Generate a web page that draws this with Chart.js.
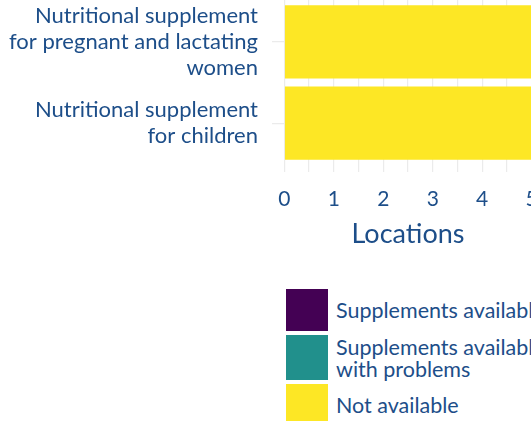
<!DOCTYPE html>
<html>
<head>
<meta charset="utf-8">
<script src="https://cdn.jsdelivr.net/npm/chart.js@4.4.0/dist/chart.umd.min.js"></script>
<style>
  html, body { margin: 0; padding: 0; background: #fff; }
  #page { position: relative; width: 531px; height: 421px; overflow: hidden; }
  #chart-box { position: absolute; left: 0; top: -20px; width: 600px; height: 270px; }
  #legenda { position: absolute; left: 286px; top: 289px; font-family: Lato, sans-serif; font-size: 21.5px; color: #1d4e89; }
  .item { display: flex; align-items: stretch; margin-bottom: 4px; }
  .caixa { width: 42px; min-height: 42px; flex: none; }
  .texto { display: flex; align-items: center; margin-left: 8px; line-height: 21.5px; white-space: nowrap; padding-top: 2px; }
</style>
</head>
<body>
<div id="page">
  <div id="chart-box"><canvas id="grafico"></canvas></div>
  <div id="legenda"></div>
</div>
<script>
const categorias = [
  ["Nutritional supplement", "for pregnant and lactating", "women"],
  ["Nutritional supplement", "for children"],
];
const disponiveis = [0, 0];
const comProblemas = [0, 0];
const naoDisponiveis = [5, 5];
const rotulosSerie = ["Supplements available", "Supplements available\nwith problems", "Not available"];
const cores = ["#440154", "#21908C", "#FDE725"];
// major ticks get a label, the half steps are minor grid lines only
const ticksX = [0, 0.5, 1, 1.5, 2, 2.5, 3, 3.5, 4, 4.5, 5];

const corTexto = "#1d4e89";
const fonte = "Lato, sans-serif";

// bars on a linear index axis so the panel keeps ggplot's 0.6 padding
function pontos(valores) {
  return valores.map((v, i) => ({ x: v, y: i }));
}

const series = [disponiveis, comProblemas, naoDisponiveis];
const datasets = series.map((s, i) => ({
  label: rotulosSerie[i],
  data: pontos(s),
  backgroundColor: cores[i],
  borderWidth: 0,
  barPercentage: 0.9,
  categoryPercentage: 1,
}));

new Chart(document.getElementById("grafico"), {
  type: "bar",
  data: { datasets },
  options: {
    indexAxis: "y",
    responsive: true,
    maintainAspectRatio: false,
    animation: false,
    layout: { padding: { left: 0, right: 56, top: 13, bottom: 0 } },
    plugins: { legend: { display: false }, tooltip: { enabled: false } },
    scales: {
      x: {
        type: "linear",
        stacked: true,
        min: -0.25,
        max: 5.25,
        offset: false,
        border: { display: false },
        grid: { color: "#ebebeb", lineWidth: 1.2, drawTicks: false, offset: false },
        ticks: {
          padding: 15,
          color: corTexto,
          autoSkip: false,
          maxRotation: 0,
          font: { family: fonte, size: 21 },
          callback: (v) => (Number.isInteger(v) ? String(v) : ""),
        },
        afterBuildTicks: (escala) => { escala.ticks = ticksX.map((v) => ({ value: v })); },
        afterFit: (escala) => { escala.paddingLeft = 0; escala.paddingRight = 0; },
        title: {
          display: true,
          text: "Locations",
          color: corTexto,
          font: { family: fonte, size: 27 },
          padding: { top: -9.5, bottom: 0 },
        },
      },
      y: {
        type: "linear",
        stacked: true,
        reverse: true,
        min: -0.6,
        max: 1.6,
        offset: false,
        border: { display: false },
        grid: { color: "#ebebeb", lineWidth: 1.2, drawTicks: false, offset: false },
        ticks: {
          padding: 14,
          color: corTexto,
          autoSkip: false,
          font: { family: fonte, size: 22, lineHeight: 1.18 },
          callback: (v) => categorias[v] || "",
        },
        afterBuildTicks: (escala) => { escala.ticks = categorias.map((c, i) => ({ value: i })); },
        afterFit: (escala) => {
          escala.width = 272;
          escala.paddingTop = 0;
          escala.paddingBottom = 0;
        },
      },
    },
  },
});

// legend in html, same order as the reference
const legenda = document.getElementById("legenda");
rotulosSerie.forEach((r, i) => {
  const item = document.createElement("div");
  item.className = "item";
  item.innerHTML = `<div class="caixa" style="background:${cores[i]}"></div><div class="texto">${r.replace("\n", "<br>")}</div>`;
  legenda.appendChild(item);
});
</script>
</body>
</html>
